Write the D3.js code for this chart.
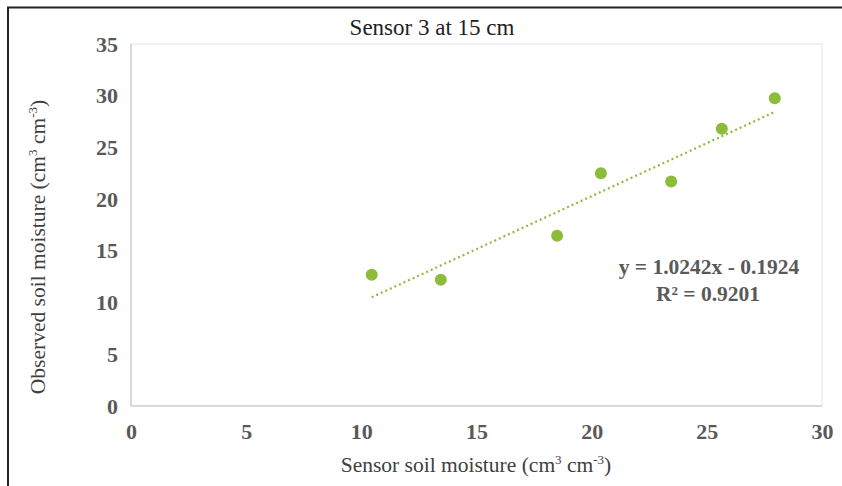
<!DOCTYPE html>
<html><head><meta charset="utf-8">
<script src="https://cdn.jsdelivr.net/npm/d3@7"></script>
<style>body{margin:0;background:#fff}svg{display:block}</style>
</head><body>
<script>
const sensorX = [10.45, 13.45, 18.5, 20.4, 23.45, 25.65, 27.95];
const observedY = [12.7, 12.2, 16.45, 22.5, 21.7, 26.8, 29.75];
const slope = 1.0242, intercept = -0.1924;
const xTicks = [0, 5, 10, 15, 20, 25, 30];
const yTicks = [0, 5, 10, 15, 20, 25, 30, 35];
const titleText = "Sensor 3 at 15 cm";
const eqText = "y = 1.0242x - 0.1924";
const r2Text = "R² = 0.9201";

const W = 842, H = 486;
const svg = d3.select("body").append("svg").attr("width", W).attr("height", H);
const L = 131, R = 822, T = 44, B = 406;
const x = d3.scaleLinear().domain([0, 30]).range([L, R]);
const y = d3.scaleLinear().domain([0, 35]).range([B, T]);
const green = "#8dbb3a", gray = "#595959", serif = "'Liberation Serif','Times New Roman',serif";

// frame lines (top and left)
svg.append("line").attr("x1", 7).attr("x2", W).attr("y1", 7.5).attr("y2", 7.5).attr("stroke", "#222").attr("stroke-width", 2);
svg.append("line").attr("x1", 8).attr("x2", 8).attr("y1", 7).attr("y2", H).attr("stroke", "#222").attr("stroke-width", 2);

// plot area border
svg.append("rect").attr("x", L).attr("y", T).attr("width", R - L).attr("height", B - T)
  .attr("fill", "none").attr("stroke", "#e3e3e3").attr("stroke-width", 1);
svg.append("line").attr("x1", L).attr("x2", R).attr("y1", B).attr("y2", B).attr("stroke", "#d0d0d0").attr("stroke-width", 1.5);
svg.append("line").attr("x1", L).attr("x2", L).attr("y1", T).attr("y2", B).attr("stroke", "#d0d0d0").attr("stroke-width", 1.5);

// axes
const xAxis = svg.append("g").attr("transform", `translate(0,${B})`)
  .call(d3.axisBottom(x).tickValues(xTicks).tickSize(0).tickPadding(17).tickFormat(d3.format("d")));
xAxis.select(".domain").remove();
xAxis.selectAll("text").attr("font-family", serif).attr("font-weight", "bold").attr("font-size", 22).attr("fill", gray).attr("dy", "0.71em");

const yAxis = svg.append("g").attr("transform", `translate(${L},0)`)
  .call(d3.axisLeft(y).tickValues(yTicks).tickSize(0).tickPadding(13).tickFormat(d3.format("d")));
yAxis.select(".domain").remove();
yAxis.selectAll("text").attr("font-family", serif).attr("font-weight", "bold").attr("font-size", 22).attr("fill", gray);

// trendline
const xmin = d3.min(sensorX), xmax = d3.max(sensorX);
svg.append("line")
  .attr("x1", x(xmin)).attr("y1", y(slope * xmin + intercept))
  .attr("x2", x(xmax)).attr("y2", y(slope * xmax + intercept))
  .attr("stroke", green).attr("stroke-width", 2.2).attr("stroke-dasharray", "2 3");

// points
svg.append("g").selectAll("circle").data(sensorX.map((v, i) => [v, observedY[i]])).join("circle")
  .attr("cx", d => x(d[0])).attr("cy", d => y(d[1])).attr("r", 6).attr("fill", green);

// equation
svg.append("text").attr("x", 709).attr("y", 274).attr("text-anchor", "middle")
  .attr("font-family", serif).attr("font-weight", "bold").attr("font-size", 21.5).attr("fill", gray).text(eqText);
svg.append("text").attr("x", 708).attr("y", 301).attr("text-anchor", "middle")
  .attr("font-family", serif).attr("font-weight", "bold").attr("font-size", 21.5).attr("fill", gray).text(r2Text);

// title
svg.append("text").attr("x", 432).attr("y", 35).attr("text-anchor", "middle")
  .attr("font-family", serif).attr("font-size", 23).attr("fill", "#222").text(titleText);

// x title
const xt = svg.append("text").attr("x", 476).attr("y", 472).attr("text-anchor", "middle")
  .attr("font-family", serif).attr("font-size", 21.5).attr("fill", "#404040");
xt.append("tspan").text("Sensor soil moisture (cm");
xt.append("tspan").attr("dy", -8).attr("font-size", 13).text("3");
xt.append("tspan").attr("dy", 8).text(" cm");
xt.append("tspan").attr("dy", -8).attr("font-size", 13).text("-3");
xt.append("tspan").attr("dy", 8).text(")");

// y title
const yt = svg.append("text").attr("transform", "translate(45,247) rotate(-90)").attr("text-anchor", "middle")
  .attr("font-family", serif).attr("font-size", 21.5).attr("fill", "#404040");
yt.append("tspan").text("Observed soil moisture (cm");
yt.append("tspan").attr("dy", -8).attr("font-size", 13).text("3");
yt.append("tspan").attr("dy", 8).text(" cm");
yt.append("tspan").attr("dy", -8).attr("font-size", 13).text("-3");
yt.append("tspan").attr("dy", 8).text(")");
</script>
</body></html>
